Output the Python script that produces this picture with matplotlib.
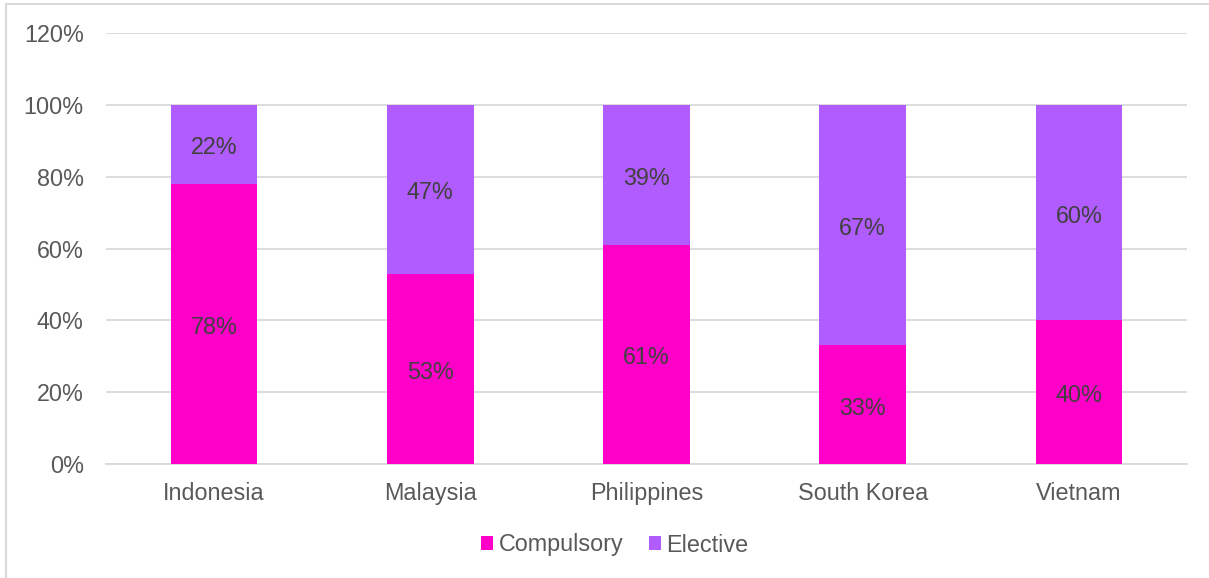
import matplotlib
matplotlib.use("Agg")
import matplotlib.pyplot as plt
from matplotlib.patches import Rectangle

countries = ["Indonesia", "Malaysia", "Philippines", "South Korea", "Vietnam"]
compulsory = [78, 53, 61, 33, 40]
elective = [22, 47, 39, 67, 60]
yticks = [0, 20, 40, 60, 80, 100, 120]

c_comp = "#FF00C8"
c_elec = "#B15CFF"
grid_c = "#D9D9D9"
tick_c = "#595959"
lbl_c = "#404040"
fs = 16.8

plt.rcParams["font.family"] = ["Liberation Sans", "DejaVu Sans"]

fig = plt.figure(figsize=(12.09, 5.78), dpi=100)
ax = fig.add_axes([106 / 1209, 1 - 464 / 578, 1081 / 1209, 431 / 578])

x = list(range(len(countries)))
b1 = ax.bar(x, compulsory, width=0.4, color=c_comp, label="Compulsory", zorder=3)
b2 = ax.bar(x, elective, width=0.4, bottom=compulsory, color=c_elec, label="Elective", zorder=3)

for bars, vals in ((b1, compulsory), (b2, elective)):
    for r, v in zip(bars, vals):
        ax.annotate(f"{v}%", (r.get_x() + r.get_width() / 2, r.get_y() + r.get_height() / 2),
                    xytext=(0, -2.5), textcoords="offset points",
                    ha="center", va="center", fontsize=fs, color=lbl_c, zorder=4)

ax.set_xlim(-0.5, len(countries) - 0.5)
ax.set_ylim(0, 120)
ax.set_yticks(yticks)
ax.set_yticklabels([f"{t}%" for t in yticks])
ax.set_xticks(x)
ax.set_xticklabels(countries)
ax.tick_params(axis="both", length=0, labelsize=fs, colors=tick_c)
ax.tick_params(axis="y", pad=16)
ax.tick_params(axis="x", pad=13)
ax.yaxis.grid(True, color=grid_c, linewidth=1.3, zorder=0)
for s in ("top", "right", "left"):
    ax.spines[s].set_visible(False)
ax.spines["bottom"].set_color(grid_c)
ax.spines["bottom"].set_linewidth(1.3)

leg = fig.legend(handles=[b1, b2], loc="center", bbox_to_anchor=(615 / 1209, 1 - 545 / 578),
                 ncol=2, frameon=False, fontsize=fs, handlelength=0.52, handleheight=0.52,
                 handletextpad=0.25, columnspacing=1.05, labelcolor=tick_c)

# outer chart-area frame
fig.patches.append(Rectangle((6 / 1209, -0.01), 1.02, 1 - 4 / 578 + 0.01, transform=fig.transFigure,
                             fill=False, edgecolor=grid_c, linewidth=1.5))

fig.savefig("out.png", dpi=100)
